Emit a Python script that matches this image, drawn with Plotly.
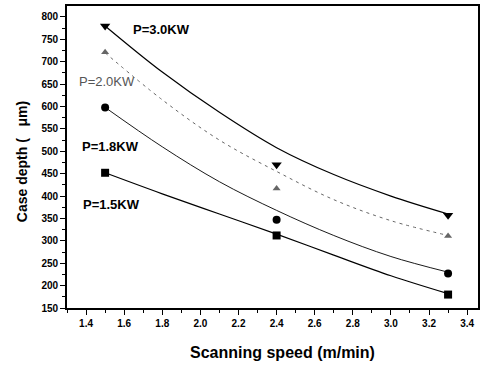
import plotly.graph_objects as go

# Measured points (scanning speed m/min, case depth um)
speeds = [1.5, 2.4, 3.3]
p30 = [780, 470, 357]
p20 = [721, 417, 311]
p18 = [598, 347, 227]
p15 = [452, 312, 180]

# Fitted curves
fit_x = [1.5, 1.8, 2.1, 2.4, 2.7, 3.0, 3.3]
fit30 = [780, 677, 587, 508, 448, 400, 360]
fit20 = [720, 615, 525, 455, 392, 345, 312]
fit18 = [598, 510, 432, 368, 312, 265, 230]
fit15 = [452, 405, 360, 315, 268, 222, 182]

labels = ["P=3.0KW", "P=2.0KW", "P=1.8KW", "P=1.5KW"]
label_pos = [(1.635, 771), (1.355, 657), (1.37, 511), (1.375, 381)]

fig = go.Figure()

styles = [
    (fit30, p30, dict(color="black", width=1.2, dash="solid"), "triangle-down", 9, "black"),
    (fit20, p20, dict(color="#666666", width=1.0, dash="3px,4px"), "triangle-up", 7, "#666666"),
    (fit18, p18, dict(color="black", width=0.9, dash="solid"), "circle", 8, "black"),
    (fit15, p15, dict(color="black", width=1.2, dash="solid"), "square", 8, "black"),
]
for fy, py, ln, sym, sz, mc in styles:
    fig.add_trace(go.Scatter(x=fit_x, y=fy, mode="lines", line=dict(shape="spline", **ln),
                             showlegend=False, hoverinfo="skip"))
    fig.add_trace(go.Scatter(x=speeds, y=py, mode="markers",
                             marker=dict(symbol=sym, size=sz, color=mc), showlegend=False))

for i, (txt, (lx, ly)) in enumerate(zip(labels, label_pos)):
    fig.add_annotation(x=lx, y=ly, text=txt, showarrow=False, xanchor="left",
                       font=dict(family="Liberation Sans", size=13,
                                 color="#555555" if i == 1 else "black",
                                 weight="normal" if i == 1 else "bold"))

fig.add_annotation(x=(22 - 67) / 413, y=(308 - 162) / 302, xref="paper", yref="paper",
                   text="Case depth (   \u03bcm)",
                   showarrow=False, textangle=-90, xanchor="center", yanchor="middle",
                   font=dict(family="Liberation Sans", size=14, weight="bold", color="black"))

fig.add_annotation(x=(284 - 67) / 413, y=(308 - 352) / 302, xref="paper", yref="paper",
                   text="Scanning speed (m/min)", showarrow=False,
                   xanchor="center", yanchor="middle",
                   font=dict(family="Liberation Sans", size=16, weight="bold", color="black"))

tickfont = dict(family="Liberation Sans", size=10, color="black", weight="bold")
fig.update_xaxes(range=[1.30, 3.457], tickvals=[1.4, 1.6, 1.8, 2.0, 2.2, 2.4, 2.6, 2.8, 3.0, 3.2, 3.4],
                 ticktext=["1.4", "1.6", "1.8", "2.0", "2.2", "2.4", "2.6", "2.8", "3.0", "3.2", "3.4"],
                 ticks="outside", ticklen=5, tickwidth=1.2, tickcolor="black",
                 minor=dict(ticks="outside", ticklen=3, dtick=0.1, tick0=1.3, tickcolor="black"),
                 showline=True, linewidth=1.8, linecolor="black", mirror=True,
                 showgrid=False, zeroline=False, tickfont=tickfont)
fig.update_yaxes(range=[150, 824.5], dtick=50, tick0=150,
                 ticks="outside", ticklen=5, tickwidth=1.2, tickcolor="black",
                 minor=dict(ticks="outside", ticklen=3, dtick=25, tick0=150, tickcolor="black"),
                 showline=True, linewidth=1.8, linecolor="black", mirror=True,
                 showgrid=False, zeroline=False, tickfont=tickfont)

fig.update_layout(width=481, height=369, margin=dict(l=67, r=1, t=6, b=61),
                  plot_bgcolor="white", paper_bgcolor="white")

fig.write_html("out.html")
